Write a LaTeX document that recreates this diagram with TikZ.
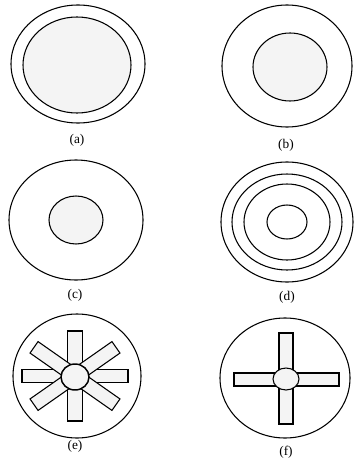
\documentclass[tikz,border=0pt]{standalone}
\usepackage{fontspec}
\setmainfont{Liberation Serif}
\usetikzlibrary{positioning}
\tikzset{
  grain/.style={draw,fill=gray!9},
  lab/.style={font=\normalsize,inner sep=1pt}
}

\begin{document}
\begin{tikzpicture}[x=0.75pt,y=-0.75pt,line width=0.8pt]
  \useasboundingbox (0,0) rectangle (354,460);
  % (a) large core, thin rim
  \draw (78,64) ellipse [x radius=67,y radius=59];
  \draw[grain] (77,65) ellipse [x radius=54,y radius=48];
  % (b) medium core
  \draw (287,66) ellipse [x radius=65,y radius=61];
  \draw[grain] (290,67) ellipse [x radius=37,y radius=34];
  % (c) small core
  \draw (76,220) ellipse [x radius=67,y radius=60];
  \draw[grain] (76,220) ellipse [x radius=27,y radius=24];
  % (d) rings
  \foreach \rx/\ry in {66/60,55/48,43/38,20/17}
    \draw (287,222) ellipse [x radius=\rx,y radius=\ry];
  % (e) eight spokes
  \draw (77,376) ellipse [x radius=64,y radius=62];
  \foreach \a/\l/\w in {0/53/6.5,90/45/7.5,35/50/7,-35/50/7}
    \draw[grain,rotate around={\a:(75,376)}] (75-\l,376-\w) rectangle (75+\l,376+\w);
  \draw[grain,line width=1.1pt] (75,377) ellipse [x radius=14,y radius=13];
  % (f) four spokes
  \draw (285,378) ellipse [x radius=65,y radius=60];
  \draw[grain] (279,333) rectangle (293,424);
  \draw[grain] (234,373) rectangle (339,386);
  \draw[grain] (286,379) ellipse [x radius=13,y radius=11];
  % labels
  \foreach \n/\x/\y in {a/77/140,b/286/145,c/75/295,d/287/297,e/75/446,f/286/452}
    \node[lab] (lab-\n) at (\x,\y) {(\n)};
\end{tikzpicture}
\end{document}
